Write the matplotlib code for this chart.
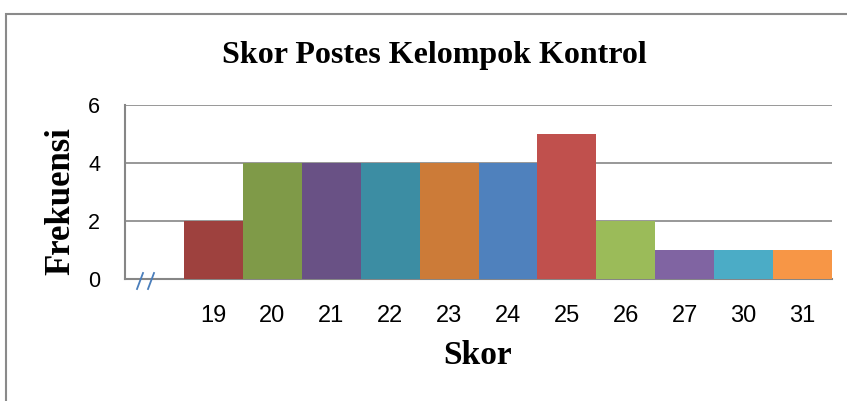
import matplotlib
matplotlib.use("Agg")
import matplotlib.pyplot as plt
from matplotlib.patches import Rectangle
from matplotlib.lines import Line2D

categories = ["", "19", "20", "21", "22", "23", "24", "25", "26", "27", "30", "31"]
frequencies = [0, 2, 4, 4, 4, 4, 4, 5, 2, 1, 1, 1]
bar_colors = ["none", "#9E413E", "#7F9A48", "#695185", "#3C8DA3", "#CC7B38",
              "#4F81BD", "#C0504D", "#9BBB59", "#8064A2", "#4BACC6", "#F79646"]
y_ticks = [0, 2, 4, 6]

serif = ["Liberation Serif", "DejaVu Serif"]
sans = ["Liberation Sans", "DejaVu Sans"]

W, H = 847, 401
fig = plt.figure(figsize=(W / 100, H / 100), dpi=100)

# outer chart border
fig.patches.append(Rectangle((6 / W, -0.1), 1.0, (H - 14) / H + 0.1,
                             transform=fig.transFigure, fill=False,
                             edgecolor="#8a8a8a", linewidth=1.5))

ax = fig.add_axes([125 / W, (H - 279) / H, 707 / W, 174 / H])
x = range(len(categories))
ax.bar(x, frequencies, width=1.0, color=bar_colors, zorder=3)

ax.set_xlim(-0.5, len(categories) - 0.5)
ax.set_ylim(0, 6)
ax.set_yticks(y_ticks)
ax.set_xticks(list(x))
ax.set_xticklabels(categories)
ax.yaxis.grid(True, color="#868686", linewidth=1.2, zorder=0)
ax.tick_params(length=0)
ax.tick_params(axis="y", labelsize=15.5, pad=18)
ax.tick_params(axis="x", labelsize=17, pad=19)
for lbl in ax.get_xticklabels() + ax.get_yticklabels():
    lbl.set_family(sans)

for side in ["top", "right"]:
    ax.spines[side].set_visible(False)
for side in ["left", "bottom"]:
    ax.spines[side].set_color("#868686")
    ax.spines[side].set_linewidth(1.5)

fig.text(434 / W, 1 - 55 / H, "Skor Postes Kelompok Kontrol", family=serif,
         fontweight="bold", fontsize=23, ha="center", va="center")
fig.text(478 / W, 1 - 356 / H, "Skor", family=serif, fontweight="bold",
         fontsize=24, ha="center", va="center")
fig.text(61 / W, 1 - 201 / H, "Frekuensi", family=serif, fontweight="bold",
         fontsize=25, ha="center", va="center", rotation=90)

# axis break mark
for x0 in (137, 148):
    fig.add_artist(Line2D([x0 / W, (x0 + 6) / W], [(H - 289) / H, (H - 273) / H],
                          transform=fig.transFigure, color="#4a7ebb", linewidth=1.3))

fig.savefig("out.png", dpi=100)
